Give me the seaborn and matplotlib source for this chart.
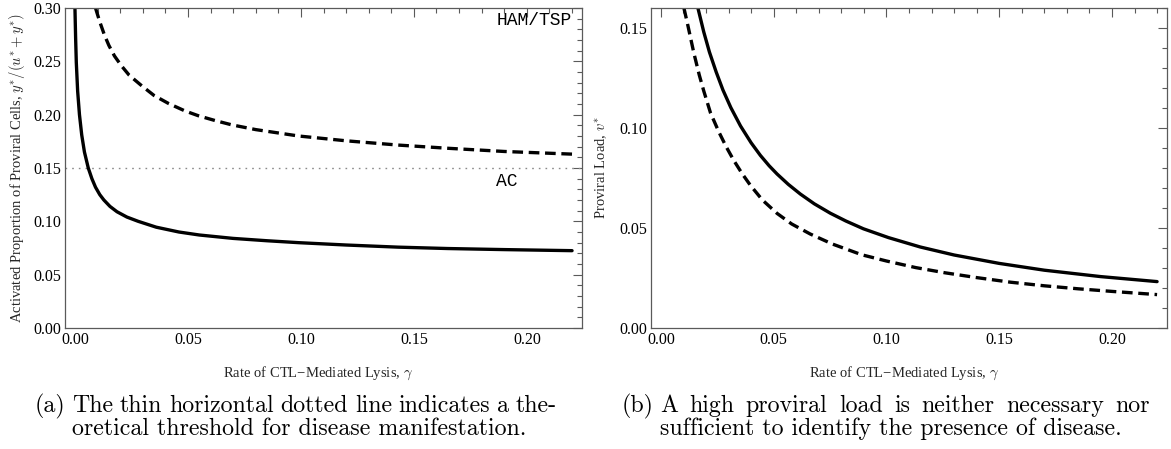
import numpy as np
import pandas as pd
import matplotlib
matplotlib.use("Agg")
import matplotlib.pyplot as plt
import seaborn as sns
from matplotlib.ticker import MultipleLocator, FormatStrFormatter

# ---------------- data ----------------
# (a) activated proportion of proviral cells vs CTL lysis rate
gamma_a_ac = [0.0000, 0.0003, 0.0006, 0.0012, 0.0020, 0.0030, 0.0042, 0.0059, 0.0075,
              0.0091, 0.0110, 0.0128, 0.0155, 0.0186, 0.0230, 0.0280, 0.0360, 0.0460,
              0.0550, 0.0700, 0.0850, 0.0990, 0.1200, 0.1430, 0.1650, 0.1900, 0.2200]
prop_ac = [0.300, 0.272, 0.249, 0.222, 0.200, 0.181, 0.165, 0.150, 0.140,
           0.132, 0.125, 0.120, 0.114, 0.109, 0.104, 0.100, 0.0945, 0.0900,
           0.0872, 0.0840, 0.0818, 0.0800, 0.0778, 0.0758, 0.0745, 0.0735, 0.0725]

gamma_a_ham = [0.0091, 0.0110, 0.0130, 0.0150, 0.0175, 0.0205, 0.0240, 0.0296, 0.0350,
               0.0414, 0.0487, 0.0546, 0.0620, 0.0693, 0.0800, 0.0990, 0.1200, 0.1430,
               0.1650, 0.1900, 0.2200]
prop_ham = [0.300, 0.287, 0.275, 0.265, 0.255, 0.246, 0.237, 0.227, 0.218,
            0.2105, 0.2035, 0.199, 0.1945, 0.1905, 0.186, 0.180, 0.1755, 0.1715,
            0.1685, 0.1655, 0.163]

# (b) proviral load vs CTL lysis rate
gamma_b_ac = [0.0164, 0.0190, 0.0215, 0.0245, 0.0275, 0.0310, 0.0353, 0.0400, 0.0441,
              0.0480, 0.0515, 0.0565, 0.0618, 0.0680, 0.0751, 0.0820, 0.0898, 0.1009,
              0.1150, 0.1300, 0.1500, 0.1700, 0.1950, 0.2200]
load_ac = [0.1600, 0.1480, 0.1380, 0.1280, 0.1190, 0.1102, 0.1010, 0.0926, 0.0863,
           0.0811, 0.0770, 0.0718, 0.0670, 0.0621, 0.0574, 0.0535, 0.0496, 0.0452,
           0.0405, 0.0365, 0.0323, 0.0289, 0.0257, 0.0232]

gamma_b_ham = [0.0102, 0.0120, 0.0146, 0.0170, 0.0190, 0.0220, 0.0257, 0.0290, 0.0323,
               0.0360, 0.0397, 0.0450, 0.0515, 0.0580, 0.0662, 0.0760, 0.0891, 0.1000,
               0.1130, 0.1260, 0.1400, 0.1550, 0.1700, 0.1850, 0.2000, 0.2200]
load_ham = [0.1600, 0.1510, 0.1375, 0.1265, 0.1185, 0.1075, 0.0980, 0.0905, 0.0838,
            0.0772, 0.0713, 0.0640, 0.0573, 0.0520, 0.0470, 0.0420, 0.0366, 0.0335,
            0.0302, 0.0276, 0.0252, 0.0229, 0.0211, 0.0196, 0.0183, 0.0167]

threshold = 0.15
groups = ["AC", "HAM/TSP"]
caption_a = ["The thin horizontal dotted line indicates a the-",
             "oretical threshold for disease manifestation."]
caption_b = ["A high proviral load is neither necessary nor",
             "sufficient to identify the presence of disease."]

df_a = pd.DataFrame({
    "gamma": gamma_a_ac + gamma_a_ham,
    "value": prop_ac + prop_ham,
    "group": [groups[0]] * len(gamma_a_ac) + [groups[1]] * len(gamma_a_ham),
})
df_b = pd.DataFrame({
    "gamma": gamma_b_ac + gamma_b_ham,
    "value": load_ac + load_ham,
    "group": [groups[0]] * len(gamma_b_ac) + [groups[1]] * len(gamma_b_ham),
})

# ---------------- style ----------------
sns.set_theme(style="white")
plt.rcParams["font.family"] = ["Liberation Serif", "DejaVu Serif"]
plt.rcParams["mathtext.fontset"] = "cm"
plt.rcParams["axes.unicode_minus"] = False

fig = plt.figure(figsize=(11.71, 4.49), dpi=100)
W, H = 1171.0, 449.0
ax_a = fig.add_axes([65 / W, 1 - 328 / H, (582 - 65) / W, (328 - 8) / H])
ax_b = fig.add_axes([651 / W, 1 - 328 / H, (1167 - 651) / W, (328 - 8) / H])

dash_map = {"AC": "", "HAM/TSP": (3.2, 1.7)}
spine_col = "#5a5a5a"

for ax, df in ((ax_a, df_a), (ax_b, df_b)):
    sns.lineplot(data=df, x="gamma", y="value", style="group", dashes=dash_map,
                 color="black", lw=2.4, legend=False, ax=ax, sort=False,
                 estimator=None)
    ax.set_xlim(-0.0044, 0.2244)
    ax.xaxis.set_major_locator(MultipleLocator(0.05))
    ax.xaxis.set_minor_locator(MultipleLocator(0.01))
    ax.yaxis.set_minor_locator(MultipleLocator(0.01))
    ax.xaxis.set_major_formatter(FormatStrFormatter("%.2f"))
    ax.yaxis.set_major_formatter(FormatStrFormatter("%.2f"))
    ax.tick_params(which="both", direction="in", top=True, right=True,
                   colors=spine_col, labelcolor="black", labelsize=11.5, width=0.8)
    ax.tick_params(which="major", length=6.5, pad=3)
    ax.tick_params(which="minor", length=3.5)
    for s in ax.spines.values():
        s.set_color(spine_col)
        s.set_linewidth(0.9)
    ax.set_xlabel(r"Rate of CTL−Mediated Lysis, $\gamma$", fontsize=10.5)
    ax.xaxis.set_label_coords(0.49, -0.114)

ax_a.set_ylim(0, 0.30)
ax_a.yaxis.set_major_locator(MultipleLocator(0.05))
ax_a.axhline(threshold, color="#8a8a8a", lw=1.0, ls=(0, (1.2, 3.6)), zorder=1)
ax_a.set_ylabel(r"Activated Proportion of Proviral Cells, $y^{*}/(u^{*}+y^{*})$",
                fontsize=10.5)
ax_a.yaxis.set_label_coords(-0.074, 0.5)
ax_a.text(0.1865, 0.288, "HAM/TSP", family="Liberation Mono", fontsize=13,
          ha="left", va="center", color="black")
ax_a.text(0.1865, 0.137, "AC", family="Liberation Mono", fontsize=13,
          ha="left", va="center", color="black")

ax_b.set_ylim(0, 0.16)
ax_b.yaxis.set_major_locator(MultipleLocator(0.05))
ax_b.set_ylabel(r"Proviral Load, $v^{*}$", fontsize=10.5)
ax_b.yaxis.set_label_coords(-0.079, 0.5)

# captions (justified first line, like the LaTeX subcaption)
cap_kw = dict(family="cmr10", fontsize=17.2, va="center", ha="left", color="black")
renderer = fig.canvas.get_renderer()


def justified(x0, x1, y, line):
    words = line.split(" ")
    arts = [fig.text(0, y, w, **cap_kw) for w in words]
    widths = [a.get_window_extent(renderer).width for a in arts]
    gap = ((x1 - x0) - sum(widths)) / max(len(words) - 1, 1)
    x = x0
    for a, w in zip(arts, widths):
        a.set_x(x / W)
        x += w + gap


fig.text(35 / W, 1 - 406 / H, "(a)", **cap_kw)
justified(72, 557, 1 - 406 / H, caption_a[0])
fig.text(72 / W, 1 - 429 / H, caption_a[1], **cap_kw)
fig.text(622 / W, 1 - 406 / H, "(b)", **cap_kw)
justified(660, 1150, 1 - 406 / H, caption_b[0])
fig.text(660 / W, 1 - 429 / H, caption_b[1], **cap_kw)

fig.savefig("out.png", dpi=100)
